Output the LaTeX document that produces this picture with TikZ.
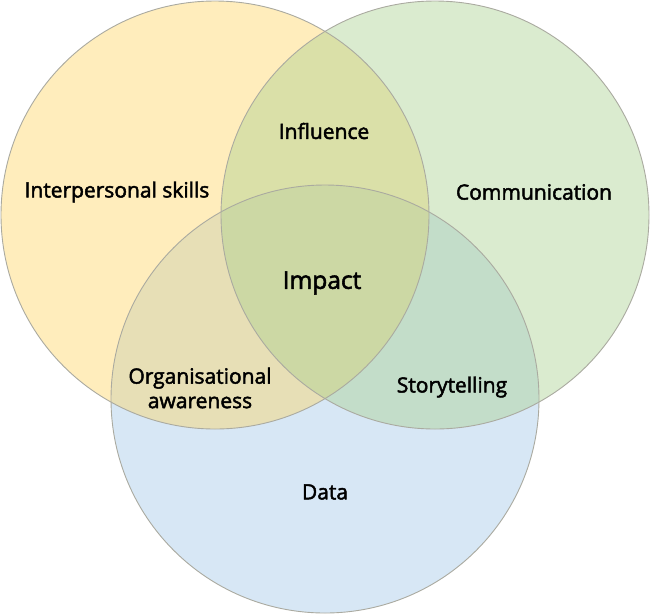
\documentclass[tikz,border=0pt]{standalone}
\usepackage{fontspec}
\setmainfont{Open Sans}
\newfontfamily\lblfont[FakeBold=2.2]{Open Sans}
\definecolor{skillyellow}{RGB}{255,214,96}
\definecolor{commgreen}{RGB}{168,208,141}
\definecolor{datablue}{RGB}{157,195,230}
\definecolor{rimgray}{RGB}{170,170,160}
\tikzset{
  ring/.style={draw=rimgray, line width=0.9pt},
  lbl/.style={font=\lblfont\fontsize{21}{24.5}\selectfont, align=center, text=black}
}
\begin{document}
\begin{tikzpicture}[x=1pt,y=-1pt]
        % 画布
        \useasboundingbox (0,0) rectangle (650,614);
        \fill[white] (0,0) rectangle (650,614);

        % 三个圆
        \fill[datablue, fill opacity=0.4] (325,399) circle (214pt);
        \fill[skillyellow, fill opacity=0.42] (215,215) circle (214pt);
        \fill[commgreen, fill opacity=0.42] (435,215) circle (214pt);
        \draw[ring] (215,215) circle (214pt);
        \draw[ring] (435,215) circle (214pt);
        \draw[ring] (325,399) circle (214pt);

        % 文字
        \node[lbl] (skills) at (117,192) {Interpersonal skills};
        \node[lbl] (comm) at (534,192) {Communication};
        \node[lbl] (data) at (325,492) {Data};
        \node[lbl] (infl) at (324,131) {Influence};
        \node[lbl] (aware) at (200,388) {Organisational\\awareness};
        \node[lbl] (story) at (452,387) {Storytelling};
        \node[lbl, font=\lblfont\fontsize{24.5}{28}\selectfont] (impact) at (322,283) {Impact};

    \end{tikzpicture}
\end{document}
